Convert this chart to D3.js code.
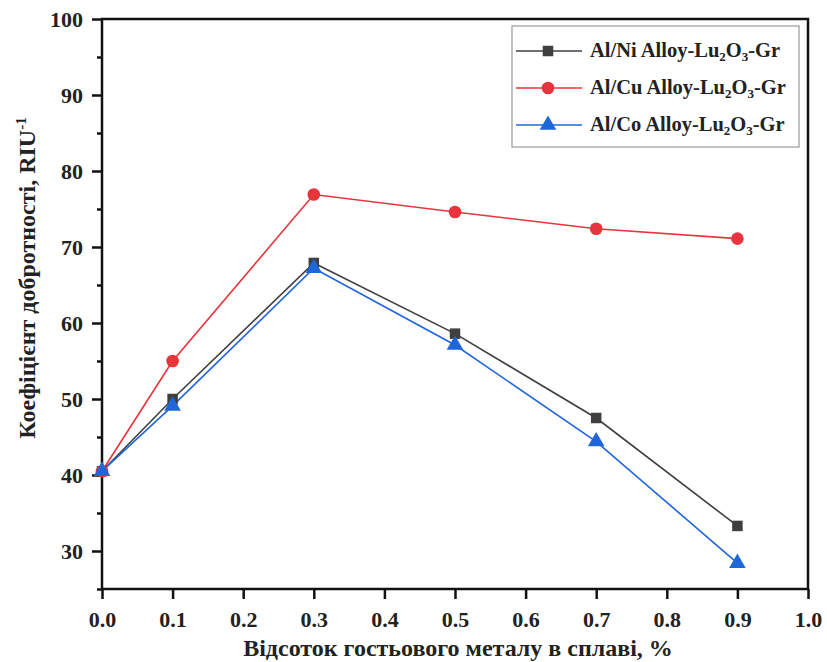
<!DOCTYPE html>
<html>
<head>
<meta charset="utf-8">
<script src="https://cdn.jsdelivr.net/npm/d3@7"></script>
<style>
  body { margin: 0; background: #fff; }
</style>
</head>
<body>
<svg id="chart" width="827" height="662"></svg>
<script>
// data
var xValues = [0.0, 0.1, 0.3, 0.5, 0.7, 0.9];
var niValues = [40.5, 50.0, 67.9, 58.6, 47.5, 33.3];
var cuValues = [40.5, 55.0, 76.9, 74.6, 72.4, 71.1];
var coValues = [40.5, 49.1, 67.2, 57.1, 44.4, 28.4];
var seriesNames = ['Al/Ni Alloy-Lu', 'Al/Cu Alloy-Lu', 'Al/Co Alloy-Lu'];
var xTicks = [0, 0.1, 0.2, 0.3, 0.4, 0.5, 0.6, 0.7, 0.8, 0.9, 1.0];
var yTicks = [30, 40, 50, 60, 70, 80, 90, 100];
var yMinorTicks = [25, 35, 45, 55, 65, 75, 85, 95];

var series = [
  { name: seriesNames[0], values: niValues, color: '#3f3f3f', marker: 'square' },
  { name: seriesNames[1], values: cuValues, color: '#e8343c', marker: 'circle' },
  { name: seriesNames[2], values: coValues, color: '#1f67d8', marker: 'triangle' }
];

var FONT = '"Liberation Serif", "Times New Roman", serif';
var margin = { top: 19, right: 19, bottom: 73, left: 102 };
var svg = d3.select('#chart');
var width = 827 - margin.left - margin.right;
var height = 662 - margin.top - margin.bottom;

var x = d3.scaleLinear().domain([0, 1]).range([0, width]);
var y = d3.scaleLinear().domain([25, 100]).range([height, 0]);

var g = svg.append('g').attr('transform', 'translate(' + margin.left + ',' + margin.top + ')');

// axes
g.append('g')
  .attr('transform', 'translate(0,' + height + ')')
  .call(d3.axisBottom(x).tickValues(xTicks).tickFormat(d3.format('.1f')).tickSize(10).tickPadding(12));
g.append('g')
  .call(d3.axisLeft(y).tickValues(yTicks).tickFormat(d3.format('d')).tickSize(10).tickPadding(9));
g.append('g')
  .call(d3.axisLeft(y).tickValues(yMinorTicks).tickFormat('').tickSize(5));

g.selectAll('.domain').remove();
g.selectAll('.tick line').attr('stroke', '#111').attr('stroke-width', 2.5);
g.selectAll('.tick text')
  .attr('fill', '#222')
  .style('font-size', '22px')
  .style('font-weight', 'bold');

// frame
g.append('rect')
  .attr('width', width).attr('height', height)
  .attr('fill', 'none').attr('stroke', '#111').attr('stroke-width', 2.5);

// lines and markers
var line = d3.line()
  .x(function (d, i) { return x(xValues[i]); })
  .y(function (d) { return y(d); });

var sym = {
  square: d3.symbol().type(d3.symbolSquare).size(110),
  circle: d3.symbol().type(d3.symbolCircle).size(125),
  triangle: d3.symbol().type(d3.symbolTriangle).size(120)
};

series.forEach(function (s) {
  g.append('path')
    .datum(s.values)
    .attr('d', line)
    .attr('fill', 'none')
    .attr('stroke', s.color)
    .attr('stroke-width', 1.6);
});
series.forEach(function (s) {
  g.selectAll('.m-' + s.marker)
    .data(s.values)
    .enter()
    .append('path')
    .attr('class', 'm-' + s.marker)
    .attr('d', sym[s.marker])
    .attr('transform', function (d, i) {
      return 'translate(' + x(xValues[i]) + ',' + y(d) + ')';
    })
    .attr('fill', s.color);
});

// legend
var legend = svg.append('g').attr('transform', 'translate(512,26)');
legend.append('rect')
  .attr('width', 287).attr('height', 121)
  .attr('fill', '#fff').attr('stroke', '#999').attr('stroke-width', 1.2);
series.forEach(function (s, i) {
  var row = legend.append('g').attr('transform', 'translate(0,' + (25 + i * 37) + ')');
  row.append('line')
    .attr('x1', 4).attr('x2', 70)
    .attr('stroke', s.color).attr('stroke-width', 1.6);
  row.append('path')
    .attr('d', sym[s.marker])
    .attr('transform', 'translate(36,0)')
    .attr('fill', s.color);
  var t = row.append('text')
    .attr('x', 78).attr('y', 6)
    .style('font-size', '20.5px').style('font-weight', 'bold').attr('fill', '#222');
  t.append('tspan').text(s.name);
  t.append('tspan').attr('dy', 4).style('font-size', '13px').text('2');
  t.append('tspan').attr('dy', -4).text('O');
  t.append('tspan').attr('dy', 4).style('font-size', '13px').text('3');
  t.append('tspan').attr('dy', -4).text('-Gr');
});

// axis titles
svg.append('text')
  .attr('x', 458).attr('y', 656)
  .attr('text-anchor', 'middle')
  .style('font-size', '24px').style('font-weight', 'bold').attr('fill', '#222')
  .text('Відсоток гостьового металу в сплаві, %');

var yt = svg.append('text')
  .attr('transform', 'translate(35,278) rotate(-90)')
  .attr('text-anchor', 'middle')
  .style('font-size', '24px').style('font-weight', 'bold').attr('fill', '#222');
yt.append('tspan').text('Коефіцієнт добротності, RIU');
yt.append('tspan').attr('dy', -9).style('font-size', '15px').text('-1');

svg.selectAll('text').style('font-family', FONT);
</script>
</body>
</html>
